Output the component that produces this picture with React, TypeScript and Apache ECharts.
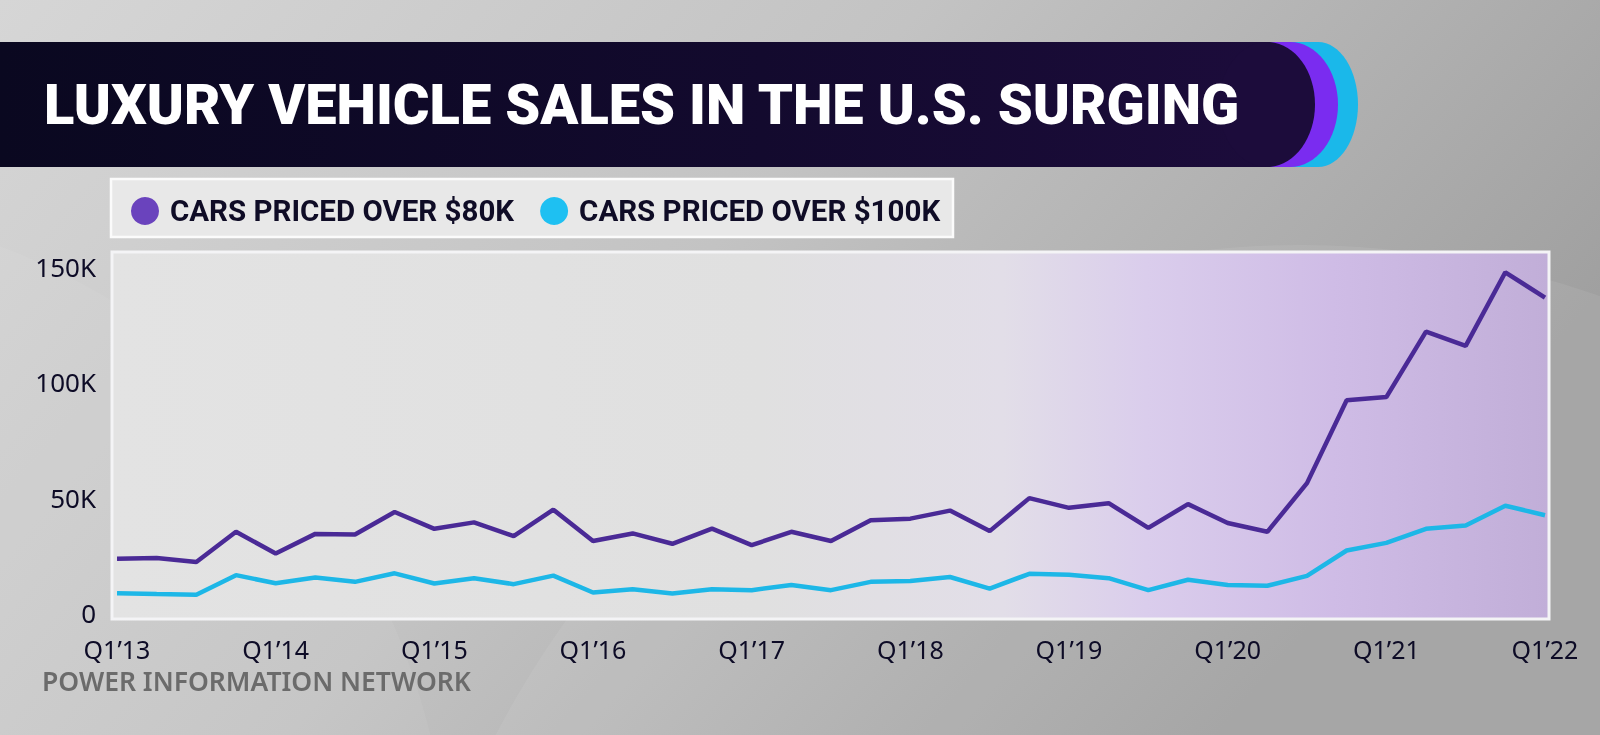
import React, { useEffect, useRef } from 'react';
import * as echarts from 'echarts';

const quarters = [
  'Q1’13', 'Q2’13', 'Q3’13', 'Q4’13',
  'Q1’14', 'Q2’14', 'Q3’14', 'Q4’14',
  'Q1’15', 'Q2’15', 'Q3’15', 'Q4’15',
  'Q1’16', 'Q2’16', 'Q3’16', 'Q4’16',
  'Q1’17', 'Q2’17', 'Q3’17', 'Q4’17',
  'Q1’18', 'Q2’18', 'Q3’18', 'Q4’18',
  'Q1’19', 'Q2’19', 'Q3’19', 'Q4’19',
  'Q1’20', 'Q2’20', 'Q3’20', 'Q4’20',
  'Q1’21', 'Q2’21', 'Q3’21', 'Q4’21',
  'Q1’22',
];

const over80k = [
  23500, 23800, 22100, 35200,
  25800, 34300, 34000, 43800,
  36500, 39300, 33300, 44800,
  31200, 34500, 30000, 36600,
  29400, 35200, 31200, 40200,
  40900, 44400, 35500, 49800,
  45600, 47600, 36900, 47200,
  39000, 35200, 56300, 92200,
  93600, 122000, 115800, 147700,
  136700,
];

const over100k = [
  8600, 8200, 7900, 16400,
  12900, 15400, 13500, 17200,
  12800, 15100, 12500, 16200,
  8900, 10300, 8500, 10300,
  9900, 12100, 9900, 13500,
  13900, 15600, 10600, 17000,
  16600, 15100, 9900, 14400,
  12100, 11800, 16100, 27100,
  30400, 36500, 37900, 46500,
  42400,
];

const yTicks = [0, 50000, 100000, 150000];
const seriesNames = ['CARS PRICED OVER $80K', 'CARS PRICED OVER $100K'];
const titleText = 'LUXURY VEHICLE SALES IN THE U.S. SURGING';
const sourceText = 'POWER INFORMATION NETWORK';

const PURPLE = '#4a2a96';
const CYAN = '#1db7e7';
const FONT = 'Roboto, "Noto Sans", sans-serif';
const AXIS_FONT = '"Noto Sans", "Open Sans", sans-serif';

function banner(xs: number, rx: number, fill: any, capFill: any, z: number) {
  return [
    { type: 'rect', z, silent: true, shape: { x: 0, y: 42, width: xs, height: 125 }, style: { fill } },
    { type: 'ellipse', z, silent: true, shape: { cx: xs, cy: 104.5, rx, ry: 62.5 }, style: { fill: capFill } },
  ];
}

export default function App() {
  const ref = useRef<HTMLDivElement>(null);

  useEffect(() => {
    const chart = echarts.init(ref.current!, null, { renderer: 'svg' });
    const navyEnd = '#1c0c3b';
    const navy = {
      type: 'linear', x: 0, y: 0, x2: 1, y2: 0,
      colorStops: [
        { offset: 0, color: '#0a0820' },
        { offset: 0.6, color: '#130a2e' },
        { offset: 1, color: navyEnd },
      ],
    };
    chart.setOption({
      animation: false,
      backgroundColor: 'transparent',
      title: {
        text: titleText,
        left: 44,
        top: 77,
        textStyle: {
          color: '#ffffff',
          fontFamily: FONT,
          fontWeight: 900,
          fontSize: 56,
          lineHeight: 56,
        },
        padding: 0,
        z: 10,
      },
      legend: {
        left: 131,
        top: 196,
        itemWidth: 28,
        itemHeight: 28,
        itemGap: 26,
        icon: 'circle',
        padding: 0,
        selectedMode: false,
        data: [
          { name: seriesNames[0], itemStyle: { color: '#6a43bd', borderWidth: 0 } },
          { name: seriesNames[1], itemStyle: { color: '#1ec0f2', borderWidth: 0 } },
        ],
        textStyle: {
          color: '#0f0c26',
          fontFamily: FONT,
          fontWeight: 'bold',
          fontSize: 29.5,
          padding: [0, 0, 0, 6],
        },
        z: 10,
      },
      grid: {
        left: 117,
        right: 55,
        top: 252,
        bottom: 122,
        containLabel: false,
      },
      xAxis: {
        type: 'category',
        data: quarters,
        boundaryGap: false,
        axisLine: { show: false },
        axisTick: { show: false },
        splitLine: { show: false },
        axisLabel: {
          interval: 3,
          margin: 23,
          color: '#0d0b26',
          fontFamily: AXIS_FONT,
          fontSize: 25,
        },
      },
      yAxis: {
        type: 'value',
        min: 0,
        max: 156500,
        interval: 50000,
        axisLine: { show: false },
        axisTick: { show: false },
        splitLine: { show: false },
        axisLabel: {
          margin: 21,
          color: '#0d0b26',
          fontFamily: AXIS_FONT,
          fontSize: 26,
          formatter: (v: number) =>
            yTicks.includes(v) ? (v === 0 ? '0' : `${v / 1000}K`) : '',
        },
      },
      graphic: [
        // page background
        {
          type: 'rect', z: -20, silent: true,
          shape: { x: 0, y: 0, width: 1600, height: 735 },
          style: {
            fill: {
              type: 'linear', x: 0, y: 0, x2: 1, y2: 0.4,
              colorStops: [
                { offset: 0, color: '#d6d6d6' },
                { offset: 0.5, color: '#c3c3c3' },
                { offset: 1, color: '#a0a0a0' },
              ],
            },
          },
        },
        {
          type: 'circle', z: -19, silent: true,
          shape: { cx: 1300, cy: 1150, r: 905 },
          style: { fill: 'rgba(255,255,255,0.07)' },
        },
        {
          type: 'circle', z: -19, silent: true,
          shape: { cx: -250, cy: 900, r: 700 },
          style: { fill: 'rgba(255,255,255,0.06)' },
        },
        // banner with rings
        ...banner(1318, 40, '#1ab8ea', '#1ab8ea', -5),
        ...banner(1290, 48, '#7a2cf0', '#7a2cf0', -4),
        ...banner(1267, 48, navy, navyEnd, -3),
        // legend box
        {
          type: 'rect', z: -2, silent: true,
          shape: { x: 111, y: 179, width: 842, height: 58 },
          style: { fill: '#e8e8e8', stroke: '#fbfbfb', lineWidth: 2.5 },
        },
        // plot frame
        {
          type: 'rect', z: -2, silent: true,
          shape: { x: 112, y: 252, width: 1437, height: 367 },
          style: {
            fill: {
              type: 'linear', x: 0, y: 0, x2: 1, y2: 0,
              colorStops: [
                { offset: 0, color: '#e3e3e3' },
                { offset: 0.45, color: '#e0e0e0' },
                { offset: 0.62, color: '#e2dee8' },
                { offset: 0.72, color: '#dacdec' },
                { offset: 0.85, color: '#cfbce6' },
                { offset: 1, color: '#c1aed8' },
              ],
            },
            stroke: '#f4f4f6',
            lineWidth: 3,
          },
        },
        // source
        {
          type: 'text', z: 5, silent: true,
          x: 42, y: 681,
          style: {
            text: sourceText,
            fill: '#6b6b6b',
            font: `600 26.5px ${AXIS_FONT}`,
            verticalAlign: 'middle',
            align: 'left',
          },
        },
      ],
      series: [
        {
          name: seriesNames[1],
          type: 'line',
          data: over100k,
          showSymbol: false,
          symbol: 'none',
          lineStyle: { color: CYAN, width: 4.5 },
          itemStyle: { color: CYAN },
          z: 3,
        },
        {
          name: seriesNames[0],
          type: 'line',
          data: over80k,
          showSymbol: false,
          symbol: 'none',
          lineStyle: { color: PURPLE, width: 4.5 },
          itemStyle: { color: PURPLE },
          z: 4,
        },
      ],
    });
    return () => chart.dispose();
  }, []);

  return (
    <div
      ref={ref}
      style={{ position: 'fixed', left: 0, top: 0, width: 1600, height: 735 }}
    />
  );
}
